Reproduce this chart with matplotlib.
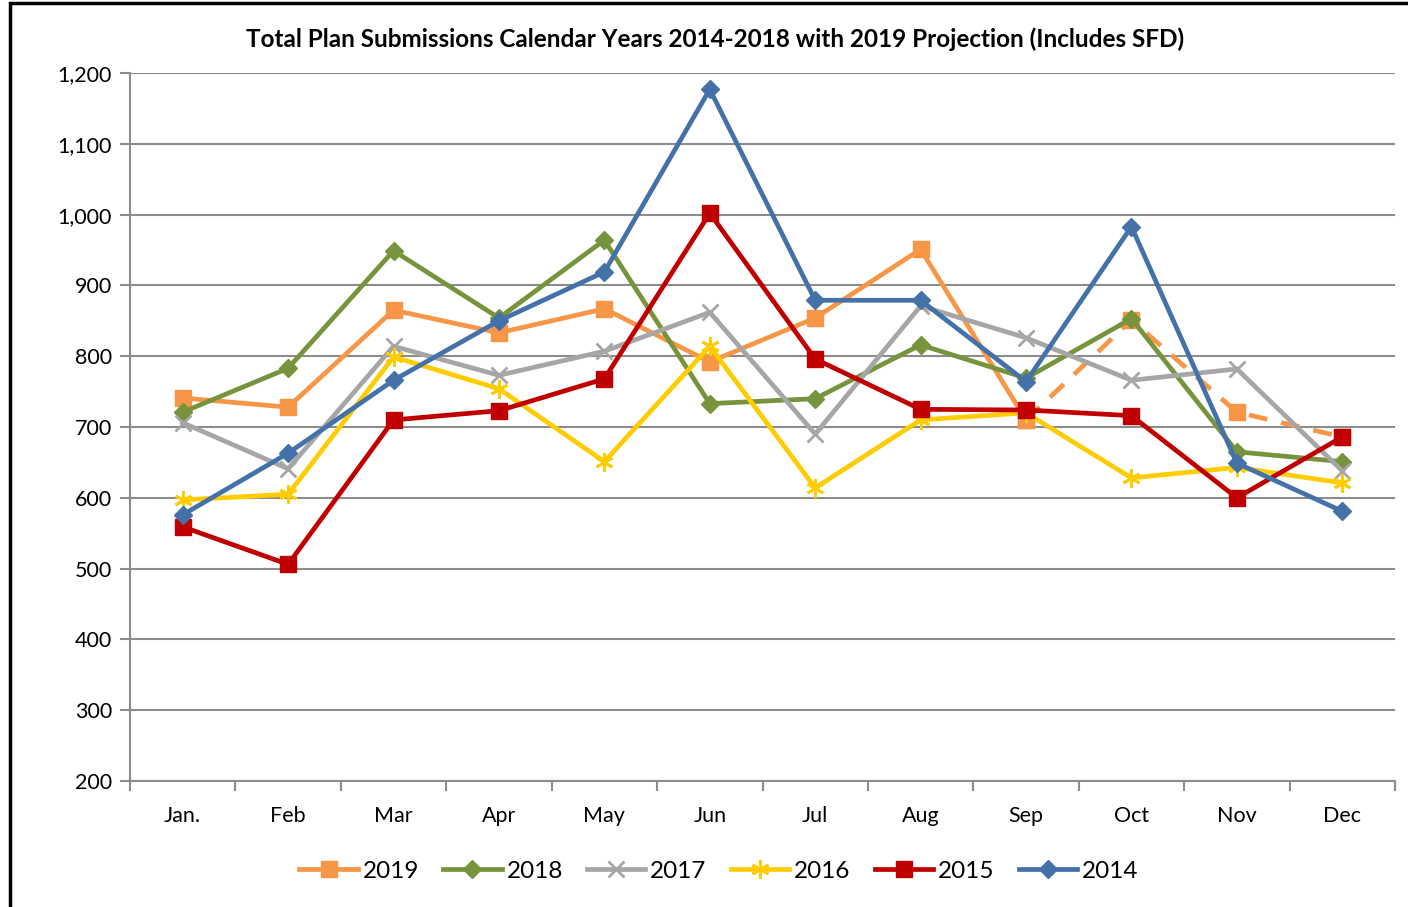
import numpy as np
import matplotlib
matplotlib.use("Agg")
import matplotlib.pyplot as plt
from matplotlib.ticker import FuncFormatter, MultipleLocator
from matplotlib.patches import Rectangle

plt.rcParams['font.family'] = ['Lato', 'DejaVu Sans']

months = ["Jan.", "Feb", "Mar", "Apr", "May", "Jun", "Jul", "Aug", "Sep", "Oct", "Nov", "Dec"]
y2019 = [741, 728, 865, 833, 867, 792, 854, 951, 710, 851, 721, 686]
y2018 = [721, 783, 949, 854, 964, 733, 740, 816, 769, 853, 665, 651]
y2017 = [706, 641, 814, 773, 807, 862, 690, 871, 826, 766, 782, 638]
y2016 = [597, 605, 799, 754, 651, 814, 614, 710, 720, 628, 643, 621]
y2015 = [559, 506, 710, 723, 768, 1002, 796, 725, 724, 716, 600, 686]
y2014 = [576, 663, 766, 850, 919, 1177, 879, 879, 764, 983, 649, 581]
proj_start = 8  # 2019 projected from Sep on

fig = plt.figure(figsize=(14.08, 9.07), dpi=100)
ax = fig.add_axes([130/1408, 1-781/907, 1265/1408, 708/907])
x = np.arange(len(months))

lw = 3.4
# 2019: actual + projection
ax.plot(x[:proj_start+1], y2019[:proj_start+1], color="#F79646", lw=lw, marker="s", ms=12,
        label="2019", zorder=3)
ax.plot(x[proj_start:], y2019[proj_start:], color="#F79646", lw=lw, ls=(0, (4, 3)), marker="s", ms=12,
        zorder=3)
ax.plot(x, y2018, color="#77933C", lw=lw, marker="D", ms=9, label="2018", zorder=4)
ax.plot(x, y2017, color="#A6A6A6", lw=lw, marker="x", ms=11, mew=2, label="2017", zorder=5)
ax.plot(x, y2016, color="#FFCC00", lw=lw, marker=(6, 2, 0), ms=13, mew=2, label="2016", zorder=6)
ax.plot(x, y2015, color="#C00000", lw=lw, marker="s", ms=12, label="2015", zorder=7)
ax.plot(x, y2014, color="#4472A8", lw=lw, marker="D", ms=9, label="2014", zorder=8)

ax.set_ylim(200, 1200)
ax.set_xlim(-0.5, 11.5)
ax.yaxis.set_major_locator(MultipleLocator(100))
ax.yaxis.set_major_formatter(FuncFormatter(lambda v, p: f"{int(v):,}"))
ax.grid(axis="y", color="#8c8c8c", lw=1.5, zorder=0)
ax.set_xticks(x)
ax.set_xticklabels(months)
ax.set_xticks(np.arange(-0.5, 12, 1), minor=True)
ax.tick_params(axis="x", which="major", length=0, pad=18, labelsize=15.5)
ax.tick_params(axis="x", which="minor", length=7, color="#8c8c8c", width=1.5)
ax.tick_params(axis="y", length=7, color="#8c8c8c", width=1.5, labelsize=15.5, pad=6)
for s in ["top", "right"]:
    ax.spines[s].set_visible(False)
for s in ["left", "bottom"]:
    ax.spines[s].set_color("#8c8c8c")
    ax.spines[s].set_linewidth(1.5)

fig.text(715/1408, 1-39/907, "Total Plan Submissions Calendar Years 2014-2018 with 2019 Projection (Includes SFD)",
         ha="center", va="center", fontsize=17.5, fontweight="bold")

fig.legend(*ax.get_legend_handles_labels(), loc="center", bbox_to_anchor=(719/1408, 1-871/907),
           ncol=6, frameon=False, fontsize=17.5,
           handlelength=2.4, columnspacing=1.0, handletextpad=0.2)

fig.patches.append(Rectangle((10/1408, -0.1), 1.2, 1 - 3/907 + 0.1, transform=fig.transFigure,
                             fill=False, edgecolor="black", lw=2.5))

fig.savefig("out.png", dpi=100)
